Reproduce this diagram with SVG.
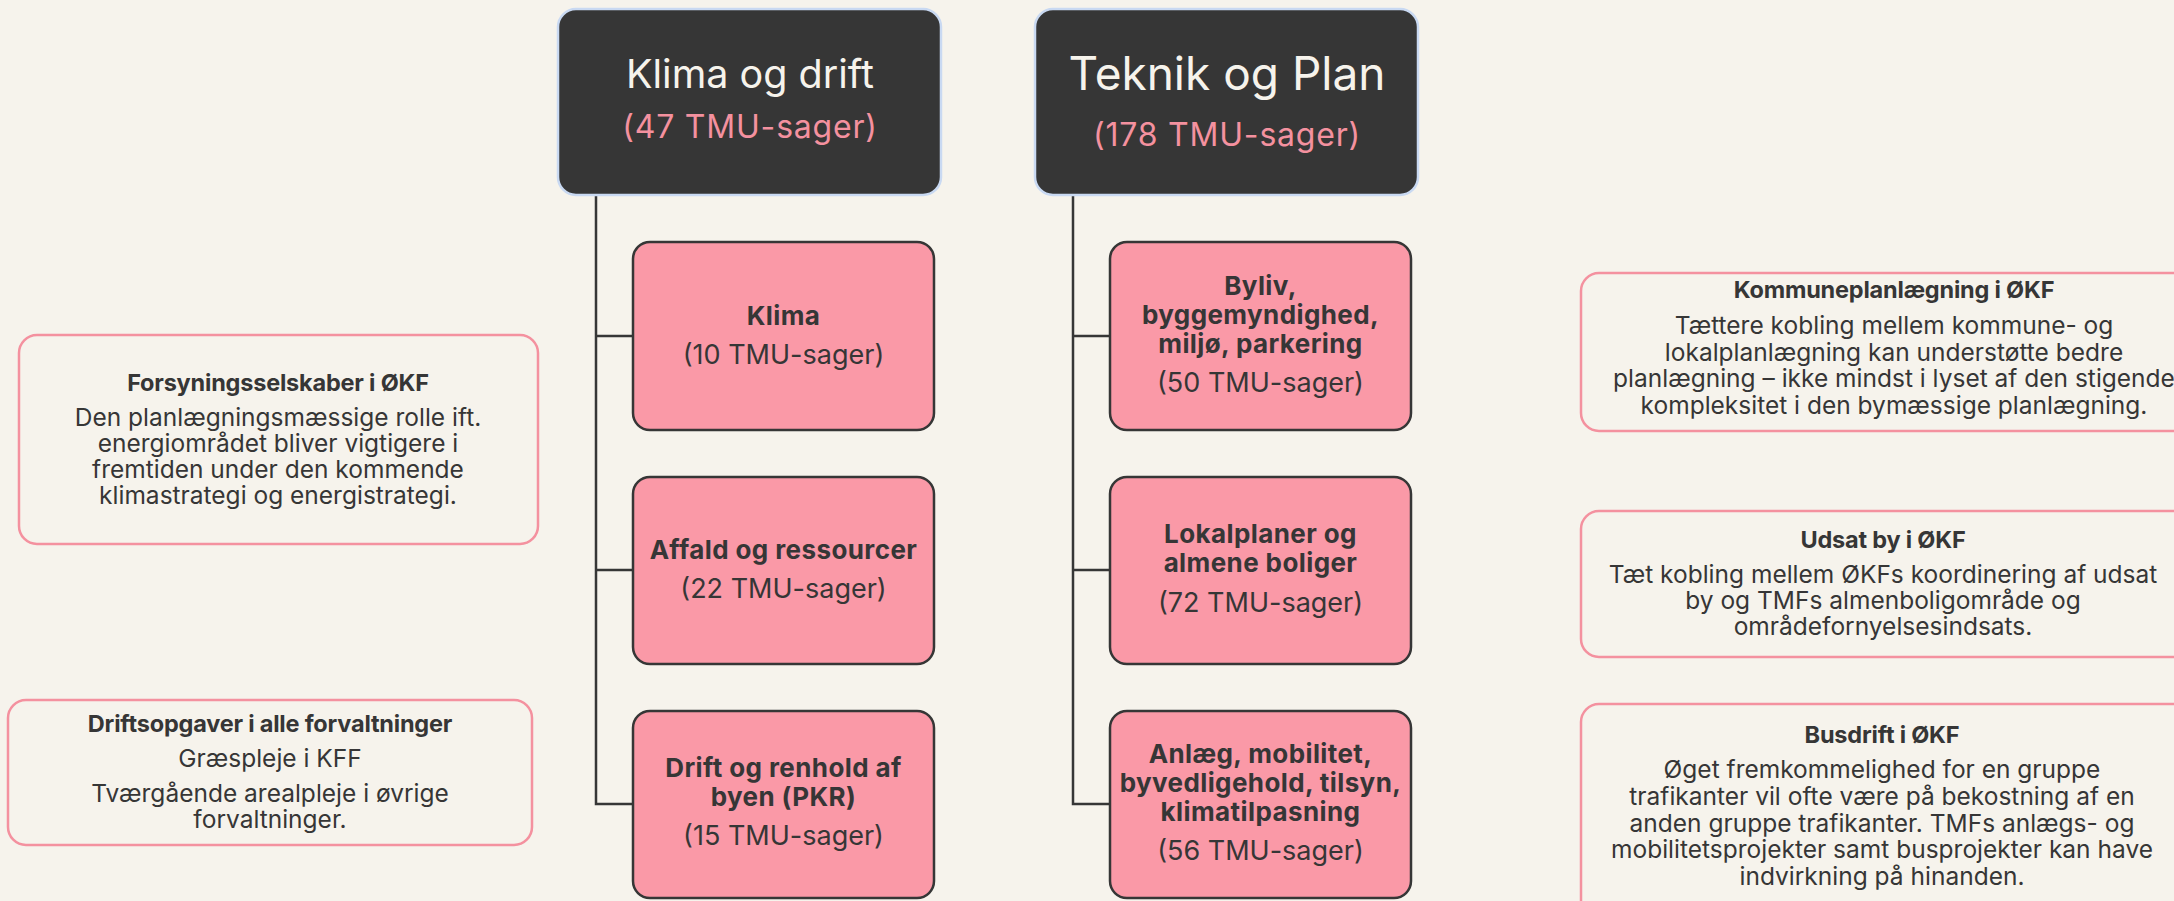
<svg xmlns="http://www.w3.org/2000/svg" width="2174" height="901" viewBox="0 0 2174 901">
<style>
.bg{fill:#f6f3ec}
.head{fill:#363636;stroke:#c9d9f2;stroke-width:2.5}
.sub{fill:#fa99a7;stroke:#363636;stroke-width:2.5}
.note{fill:#f6f3ec;stroke:#f4919f;stroke-width:2.5}
.conn{fill:none;stroke:#363636;stroke-width:2.5}
text{font-family:Inter,"Noto Sans","Liberation Sans",sans-serif;text-anchor:middle;fill:#363636}
.ht{fill:#f6f3ec;font-size:39.5px}
.ht2{fill:#f6f3ec;font-size:46px}
.hc{fill:#f4919f;font-size:32px;letter-spacing:0.8px}
.b{font-weight:bold;font-size:26px;letter-spacing:0.4px}
.r{font-size:27px}
.nt{font-weight:bold;font-size:23.5px;letter-spacing:-0.2px}
.nb{font-size:24.5px}
</style>
<rect class="bg" x="0" y="0" width="2174" height="901"/>
<g id="connectors">
<path class="conn" d="M596 195 V804 H633 M596 336 H633 M596 570 H633"/>
<path class="conn" d="M1073 195 V804 H1110 M1073 336 H1110 M1073 570 H1110"/>
</g>
<g id="klima-og-drift">
<rect class="head" x="558" y="9" width="383" height="186" rx="18"/>
<text class="ht" x="750" y="88">Klima og drift</text>
<text class="hc" x="750" y="138">(47 TMU-sager)</text>
</g>
<g id="teknik-og-plan">
<rect class="head" x="1035" y="9" width="383" height="186" rx="18"/>
<text class="ht2" x="1227" y="90">Teknik og Plan</text>
<text class="hc" x="1227" y="146">(178 TMU-sager)</text>
</g>
<g id="klima">
<rect class="sub" x="633" y="242" width="301" height="188" rx="17"/>
<text class="b" x="783.5" y="325">Klima</text>
<text class="r" x="783.5" y="364">(10 TMU-sager)</text>
</g>
<g id="affald">
<rect class="sub" x="633" y="477" width="301" height="187" rx="17"/>
<text class="b" x="783.5" y="559">Affald og ressourcer</text>
<text class="r" x="783.5" y="598">(22 TMU-sager)</text>
</g>
<g id="drift">
<rect class="sub" x="633" y="711" width="301" height="187" rx="17"/>
<text class="b" x="783.5" y="777">Drift og renhold af</text>
<text class="b" x="783.5" y="806">byen (PKR)</text>
<text class="r" x="783.5" y="845">(15 TMU-sager)</text>
</g>
<g id="byliv">
<rect class="sub" x="1110" y="242" width="301" height="188" rx="17"/>
<text class="b" x="1260.5" y="295">Byliv,</text>
<text class="b" x="1260.5" y="324">byggemyndighed,</text>
<text class="b" x="1260.5" y="353">miljø, parkering</text>
<text class="r" x="1260.5" y="392">(50 TMU-sager)</text>
</g>
<g id="lokalplaner">
<rect class="sub" x="1110" y="477" width="301" height="187" rx="17"/>
<text class="b" x="1260.5" y="543">Lokalplaner og</text>
<text class="b" x="1260.5" y="572">almene boliger</text>
<text class="r" x="1260.5" y="612">(72 TMU-sager)</text>
</g>
<g id="anlaeg">
<rect class="sub" x="1110" y="711" width="301" height="187" rx="17"/>
<text class="b" x="1260.5" y="763">Anlæg, mobilitet,</text>
<text class="b" x="1260.5" y="792">byvedligehold, tilsyn,</text>
<text class="b" x="1260.5" y="821">klimatilpasning</text>
<text class="r" x="1260.5" y="860">(56 TMU-sager)</text>
</g>
<g id="forsyning">
<rect class="note" x="19" y="335" width="519" height="209" rx="18"/>
<text class="nt" x="278" y="391">Forsyningsselskaber i ØKF</text>
<text class="nb" x="278" y="426">Den planlægningsmæssige rolle ift.</text>
<text class="nb" x="278" y="452">energiområdet bliver vigtigere i</text>
<text class="nb" x="278" y="478">fremtiden under den kommende</text>
<text class="nb" x="278" y="504">klimastrategi og energistrategi.</text>
</g>
<g id="driftsopgaver">
<rect class="note" x="8" y="700" width="524" height="145" rx="18"/>
<text class="nt" x="270" y="732">Driftsopgaver i alle forvaltninger</text>
<text class="nb" x="270" y="767">Græspleje i KFF</text>
<text class="nb" x="270" y="802">Tværgående arealpleje i øvrige</text>
<text class="nb" x="270" y="828">forvaltninger.</text>
</g>
<g id="kommuneplan">
<rect class="note" x="1581" y="273" width="630" height="158" rx="18"/>
<text class="nt" x="1894" y="298">Kommuneplanlægning i ØKF</text>
<text class="nb" x="1894" y="334">Tættere kobling mellem kommune- og</text>
<text class="nb" x="1894" y="361">lokalplanlægning kan understøtte bedre</text>
<text class="nb" x="1894" y="387">planlægning – ikke mindst i lyset af den stigende</text>
<text class="nb" x="1894" y="414">kompleksitet i den bymæssige planlægning.</text>
</g>
<g id="udsat-by">
<rect class="note" x="1581" y="511" width="610" height="146" rx="18"/>
<text class="nt" x="1883" y="548">Udsat by i ØKF</text>
<text class="nb" x="1883" y="583">Tæt kobling mellem ØKFs koordinering af udsat</text>
<text class="nb" x="1883" y="609">by og TMFs almenboligområde og</text>
<text class="nb" x="1883" y="635">områdefornyelsesindsats.</text>
</g>
<g id="busdrift">
<rect class="note" x="1581" y="704" width="610" height="215" rx="18"/>
<text class="nt" x="1882" y="743">Busdrift i ØKF</text>
<text class="nb" x="1882" y="778">Øget fremkommelighed for en gruppe</text>
<text class="nb" x="1882" y="805">trafikanter vil ofte være på bekostning af en</text>
<text class="nb" x="1882" y="832">anden gruppe trafikanter. TMFs anlægs- og</text>
<text class="nb" x="1882" y="858">mobilitetsprojekter samt busprojekter kan have</text>
<text class="nb" x="1882" y="885">indvirkning på hinanden.</text>
</g>
</svg>
